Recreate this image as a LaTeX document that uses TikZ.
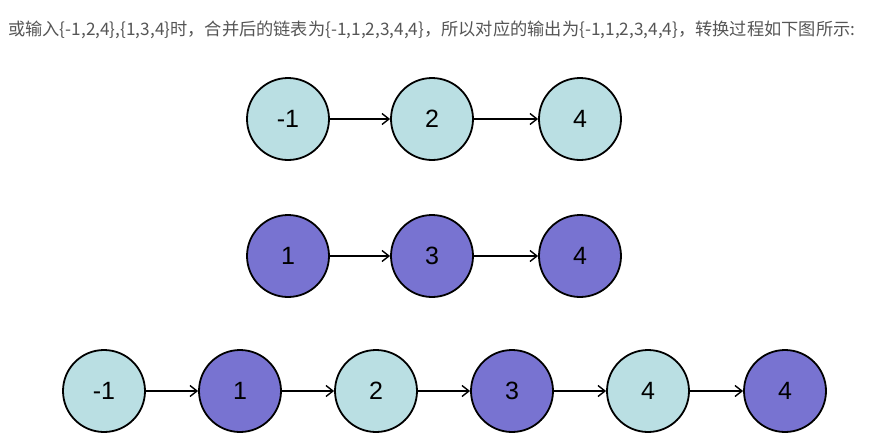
\documentclass[tikz,border=0pt]{standalone}
\usepackage{fontspec}
\setmainfont{Liberation Sans}
\newfontfamily\cjk{Noto Sans CJK SC}
\usetikzlibrary{arrows.meta}
\definecolor{lteal}{HTML}{BADFE3}
\definecolor{lpurple}{HTML}{7873D1}
\definecolor{txtgray}{HTML}{555555}
\tikzset{
  nd/.style={circle, draw=black, line width=1.8pt, minimum size=82pt, inner sep=0pt,
    font=\fontsize{25}{30}\selectfont},
  tealnd/.style={nd, fill=lteal},
  purnd/.style={nd, fill=lpurple},
  link/.style={line width=1.4pt, -{Straight Barb[length=7pt,width=11pt,line width=1.4pt]}}
}
\begin{document}
\begin{tikzpicture}[x=1pt,y=-1pt]
\useasboundingbox (0,0) rectangle (877,444);
\node[anchor=west, inner sep=0pt, text=txtgray] (cap) at (8,30)
  {\resizebox{847pt}{!}{\cjk\fontsize{16}{20}\selectfont 或输入\{-1,2,4\},\{1,3,4\}时，合并后的链表为\{-1,1,2,3,4,4\}，所以对应的输出为\{-1,1,2,3,4,4\}，转换过程如下图所示:}};
% row 1
\node[tealnd] (a1) at (288,119) {-1};
\node[tealnd] (a2) at (432,119) {2};
\node[tealnd] (a3) at (580,119) {4};
\draw[link] (a1) -- (a2);
\draw[link] (a2) -- (a3);
% row 2
\node[purnd] (b1) at (288,256) {1};
\node[purnd] (b2) at (432,256) {3};
\node[purnd] (b3) at (580,256) {4};
\draw[link] (b1) -- (b2);
\draw[link] (b2) -- (b3);
% row 3
\node[tealnd] (c1) at (104,391) {-1};
\node[purnd] (c2) at (240,391) {1};
\node[tealnd] (c3) at (376,391) {2};
\node[purnd] (c4) at (512,391) {3};
\node[tealnd] (c5) at (648,391) {4};
\node[purnd] (c6) at (785,391) {4};
\draw[link] (c1) -- (c2);
\draw[link] (c2) -- (c3);
\draw[link] (c3) -- (c4);
\draw[link] (c4) -- (c5);
\draw[link] (c5) -- (c6);
\end{tikzpicture}
\end{document}
